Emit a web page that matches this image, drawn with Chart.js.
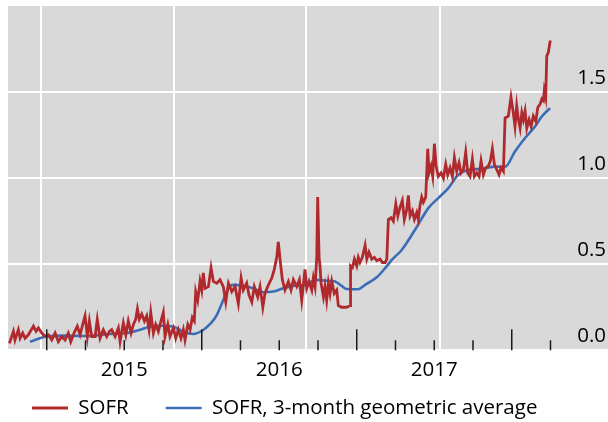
<!DOCTYPE html>
<html><head><meta charset="utf-8">
<script src="https://cdn.jsdelivr.net/npm/chart.js@4.4.0/dist/chart.umd.min.js"></script>
<style>html,body{margin:0;padding:0;background:#fff;}</style>
</head><body>
<canvas id="c" width="608" height="422"></canvas>
<script>
// ---- data (x = decimal year) ----
const sofrX = [2014.759,2014.785,2014.795,2014.817,2014.828,2014.845,2014.860,2014.881,2014.914,2014.931,2014.946,2014.968,2014.989,2015.010,2015.032,2015.054,2015.075,2015.097,2015.118,2015.139,2015.155,2015.176,2015.197,2015.215,2015.232,2015.247,2015.262,2015.275,2015.290,2015.312,2015.326,2015.344,2015.365,2015.387,2015.404,
2015.419,2015.441,2015.462,2015.473,2015.494,2015.510,2015.526,2015.544,2015.559,2015.574,2015.585,2015.597,2015.613,2015.630,2015.645,2015.660,2015.671,2015.688,2015.703,2015.720,2015.737,2015.752,2015.763,2015.781,2015.795,2015.817,2015.832,2015.849,2015.866,2015.881,2015.892,2015.910,2015.925,2015.939,2015.952,
2015.961,2015.974,2015.989,2016.000,2016.010,2016.021,2016.043,2016.060,2016.075,2016.097,2016.118,2016.139,2016.155,2016.172,2016.194,2016.215,2016.236,2016.254,2016.268,2016.290,2016.305,2016.323,2016.339,2016.361,2016.376,2016.394,2016.408,2016.430,2016.452,2016.468,
2016.484,2016.494,2016.505,2016.520,2016.537,2016.559,2016.576,2016.591,2016.613,2016.630,2016.645,2016.666,2016.677,2016.692,2016.710,2016.720,2016.731,2016.742,2016.748,2016.757,2016.763,2016.770,2016.785,2016.795,2016.806,2016.817,2016.828,2016.839,2016.855,2016.871,2016.881,2016.903,2016.935,2016.957,
2016.960,2016.972,2016.985,2017.000,2017.010,2017.021,2017.036,2017.054,2017.065,2017.079,2017.097,2017.114,2017.129,2017.150,2017.165,2017.183,2017.194,
2017.204,2017.221,2017.236,2017.252,2017.265,2017.279,2017.294,2017.307,2017.323,2017.333,2017.344,2017.359,2017.372,2017.387,2017.397,2017.408,2017.419,2017.430,2017.445,
2017.458,2017.466,2017.479,2017.490,2017.501,2017.512,2017.526,2017.544,2017.559,2017.574,2017.587,2017.602,2017.617,2017.630,2017.645,2017.660,2017.673,2017.688,2017.703,2017.716,2017.731,2017.746,2017.759,2017.774,2017.789,2017.802,2017.817,2017.832,2017.849,2017.862,2017.875,2017.888,2017.903,2017.918,2017.931,2017.946,
2017.957,2017.978,2017.995,2018.010,2018.021,2018.032,2018.043,2018.054,2018.065,2018.075,2018.086,2018.097,2018.112,2018.125,2018.139,2018.155,2018.168,2018.183,2018.194,2018.204,2018.210,2018.219,2018.226,2018.236,2018.243,2018.249];
const sofrY = [0.04,0.11,0.06,0.12,0.07,0.10,0.07,0.09,0.14,0.11,0.13,0.10,0.08,0.09,0.06,0.10,0.05,0.08,0.06,0.10,0.05,0.10,0.14,0.09,0.15,0.20,0.08,0.17,0.08,0.08,0.18,0.07,0.12,0.08,0.11,
0.12,0.08,0.13,0.05,0.16,0.09,0.17,0.10,0.15,0.18,0.24,0.18,0.21,0.17,0.20,0.12,0.22,0.10,0.15,0.11,0.17,0.22,0.08,0.15,0.08,0.13,0.07,0.12,0.07,0.12,0.06,0.15,0.12,0.19,0.17,
0.34,0.29,0.40,0.35,0.45,0.36,0.37,0.48,0.40,0.39,0.41,0.37,0.28,0.39,0.34,0.37,0.27,0.42,0.35,0.39,0.32,0.28,0.37,0.31,0.37,0.25,0.33,0.38,0.42,0.47,
0.54,0.63,0.53,0.41,0.35,0.40,0.35,0.41,0.37,0.41,0.29,0.47,0.36,0.40,0.35,0.42,0.37,0.54,0.89,0.54,0.49,0.39,0.31,0.37,0.29,0.39,0.33,0.40,0.33,0.35,0.26,0.25,0.25,0.26,
0.49,0.48,0.53,0.49,0.54,0.51,0.54,0.61,0.53,0.57,0.53,0.54,0.52,0.53,0.51,0.51,0.53,
0.76,0.77,0.75,0.85,0.78,0.83,0.87,0.76,0.82,0.90,0.78,0.81,0.76,0.80,0.76,0.84,0.89,0.86,0.89,
1.17,1.03,1.07,1.01,1.20,1.07,1.01,1.03,1.00,1.08,1.02,1.06,1.01,1.12,1.04,1.09,1.03,1.05,1.15,1.03,1.01,1.11,1.01,1.03,1.01,1.10,1.02,1.06,1.07,1.10,1.17,1.08,1.05,1.02,1.06,1.04,
1.35,1.36,1.47,1.38,1.30,1.42,1.34,1.29,1.38,1.34,1.39,1.29,1.34,1.30,1.36,1.33,1.41,1.43,1.46,1.45,1.51,1.47,1.71,1.73,1.77,1.80];

const avgX = [2014.892,2015.000,2015.129,2015.258,2015.408,2015.516,2015.602,2015.666,2015.731,2015.817,2015.881,2015.946,2016.010,2016.054,2016.097,2016.139,2016.172,2016.204,2016.268,2016.333,2016.397,2016.462,2016.526,2016.591,2016.666,2016.742,2016.795,2016.860,2016.903,2016.935,2017.010,2017.054,2017.129,2017.183,2017.226,2017.290,2017.376,2017.462,2017.526,2017.591,2017.655,2017.720,2017.806,2017.892,2017.957,2018.021,2018.086,2018.150,2018.194,2018.247];
const avgY = [0.05,0.08,0.085,0.083,0.095,0.10,0.12,0.137,0.143,0.137,0.108,0.095,0.118,0.153,0.205,0.292,0.36,0.38,0.374,0.36,0.337,0.341,0.36,0.374,0.38,0.409,0.405,0.399,0.374,0.356,0.355,0.38,0.424,0.477,0.525,0.583,0.70,0.826,0.884,0.942,1.02,1.048,1.054,1.067,1.066,1.155,1.233,1.30,1.358,1.407];

const seriesNames = ['SOFR', 'SOFR, 3-month geometric average'];
const yearLabels = ['2015', '2016', '2017'];
const yearLabelPos = [2015.5, 2016.5, 2017.5];
const quarterTicks = [2015, 2015.25, 2015.5, 2015.75, 2016, 2016.25, 2016.5, 2016.75, 2017, 2017.25, 2017.5, 2017.75, 2018, 2018.25];
const gridLinePos = [2014.961, 2015.819, 2016.673, 2017.537];
const yTicks = [0, 0.5, 1.0, 1.5];

const FONT = 'Open Sans';
const FSIZE = 20.5;

const bgPlugin = {
  id: 'bg',
  beforeDraw(chart) {
    const {ctx, chartArea: a} = chart;
    ctx.save();
    ctx.fillStyle = '#d9d9d9';
    ctx.fillRect(a.left, a.top, a.right - a.left, a.bottom - a.top);
    ctx.restore();
  }
};
const tickPlugin = {
  id: 'qticks',
  afterDatasetsDraw(chart) {
    const sx = chart.scales.x, b = chart.chartArea.bottom, ctx = chart.ctx;
    ctx.save();
    ctx.strokeStyle = '#1a1a1a';
    ctx.lineWidth = 1.5;
    quarterTicks.forEach(q => {
      const px = sx.getPixelForValue(q);
      const len = Number.isInteger(q) ? 21 : 10;
      ctx.beginPath(); ctx.moveTo(px, b); ctx.lineTo(px, b - len); ctx.stroke();
    });
    ctx.restore();
  }
};
const noPad = s => { s.paddingTop = 0; s.paddingBottom = 0; s.paddingLeft = 0; s.paddingRight = 0; };

new Chart(document.getElementById('c'), {
  type: 'line',
  data: {
    datasets: [
      { label: seriesNames[0], data: sofrX.map((x, i) => ({x, y: sofrY[i]})),
        borderColor: '#b0292d', backgroundColor: '#b0292d', borderWidth: 2.8, pointRadius: 0, tension: 0 },
      { label: seriesNames[1], data: avgX.map((x, i) => ({x, y: avgY[i]})),
        borderColor: '#3b6db6', backgroundColor: '#3b6db6', borderWidth: 2.6, pointRadius: 0, cubicInterpolationMode: 'monotone' }
    ]
  },
  options: {
    responsive: false, animation: false, devicePixelRatio: 1,
    layout: { padding: { left: -5, right: 0, top: 6, bottom: -6.25 } },
    scales: {
      x: {
        type: 'linear', position: 'bottom', min: 2014.75, max: 2018.621,
        afterBuildTicks: s => {
          s.ticks = gridLinePos.map(v => ({value: v, kind: 'grid'}))
            .concat(yearLabelPos.map((v, i) => ({value: v, kind: 'label', text: yearLabels[i]})))
            .sort((a, b) => a.value - b.value);
        },
        afterFit: s => { s.height = 10.45; noPad(s); },
        grid: { color: c => (c.tick && c.tick.kind === 'grid') ? '#ffffff' : 'rgba(0,0,0,0)', lineWidth: 2, drawTicks: false },
        border: { display: false },
        ticks: { autoSkip: false, maxRotation: 0, minRotation: 0, mirror: true, padding: -31.7, color: '#000',
          font: { family: FONT, size: FSIZE },
          callback: (v, i, t) => t[i].text || '' }
      },
      y: {
        type: 'linear', position: 'right', min: 0, max: 2,
        afterBuildTicks: s => { s.ticks = yTicks.map(v => ({value: v})); },
        afterFit: s => { s.width = 0; noPad(s); },
        grid: { color: '#ffffff', lineWidth: 2, drawTicks: false },
        border: { display: false },
        ticks: { mirror: true, padding: -2, labelOffset: -14, color: '#000', font: { family: FONT, size: FSIZE },
          callback: v => Number(v).toFixed(1) }
      },
      yl: {
        type: 'linear', position: 'left', display: true,
        grid: { display: false, drawTicks: false }, border: { display: false }, ticks: { display: false },
        afterFit: s => { s.width = 13; noPad(s); }
      }
    },
    plugins: {
      tooltip: { enabled: false },
      title: { display: false },
      legend: {
        display: true, position: 'bottom', align: 'start',
        labels: { usePointStyle: true, pointStyle: 'line', pointStyleWidth: 36, padding: 37, color: '#000',
          font: { family: FONT, size: FSIZE } }
      }
    }
  },
  plugins: [bgPlugin, tickPlugin]
});
</script>
</body></html>
